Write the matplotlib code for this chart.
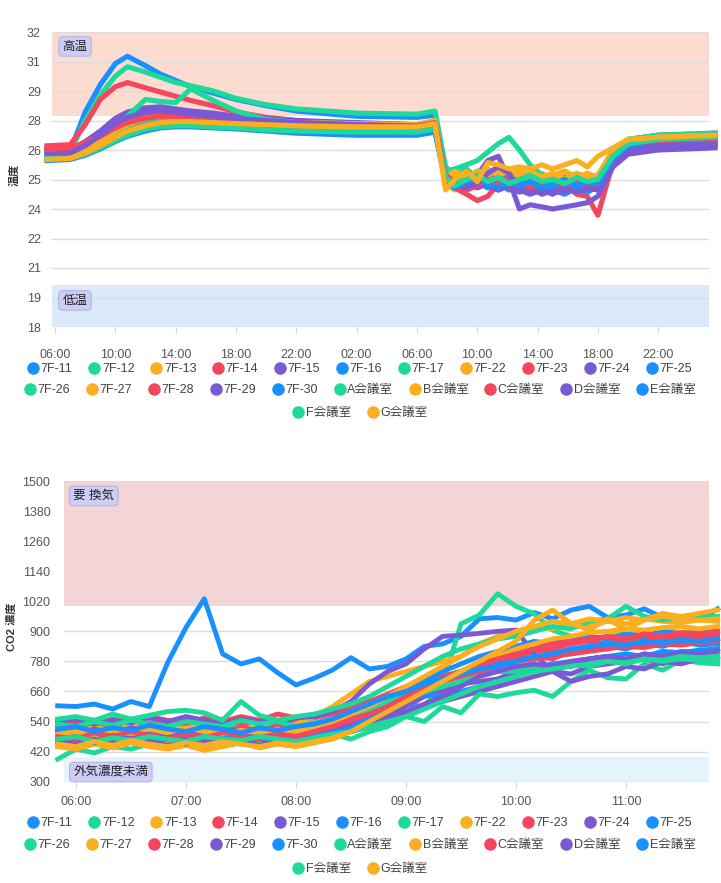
import matplotlib
matplotlib.use('Agg')
import matplotlib.pyplot as plt
from matplotlib.lines import Line2D
from matplotlib import font_manager

names_installed = {f.name for f in font_manager.fontManager.ttflist}
base_font = 'Liberation Sans Narrow' if 'Liberation Sans Narrow' in names_installed else 'Liberation Sans'
plt.rcParams['font.family'] = [base_font, 'Noto Sans CJK JP', 'DejaVu Sans']

# series names and colours
names = ['7F-11', '7F-12', '7F-13', '7F-14', '7F-15', '7F-16', '7F-17', '7F-22',
         '7F-23', '7F-24', '7F-25', '7F-26', '7F-27', '7F-28', '7F-29', '7F-30',
         'A会議室', 'B会議室', 'C会議室', 'D会議室', 'E会議室', 'F会議室', 'G会議室']
palette = ['#1890ff', '#1ed99a', '#fbae1f', '#f5465f', '#7a5ad4']

# ---- temperature (hours since day 1 00:00) ----
t_hours = [5.47, 7, 8, 9, 10, 10.8, 12, 13, 14, 15, 16.5, 18, 20, 22, 26, 30,
           31.2, 31.9, 32.5, 33.3, 34, 34.7, 35.4, 36.1, 36.8, 37.5, 38.3, 39, 39.8,
           40.6, 41.3, 42, 43, 44, 46, 49.77]
t_7f11 = [26.3, 26.35, 28.2, 29.5, 30.5, 30.85, 30.4, 30.0, 29.7, 29.4, 29.1, 28.8, 28.5, 28.25, 28.0, 27.95,
          28.05, 25.3, 25.1, 24.9, 25.2, 24.8, 24.9, 24.6, 24.8, 24.5, 24.7, 24.5, 24.8, 24.6, 24.9, 25.0, 26.3, 26.9, 27.1, 27.2]
t_7f12 = [26.25, 26.3, 27.8, 29.0, 29.9, 30.35, 30.1, 29.85, 29.6, 29.45, 29.2, 28.85, 28.55, 28.35, 28.15, 28.1,
          28.25, 25.6, 25.2, 25.5, 25.0, 25.3, 24.9, 25.1, 24.7, 24.9, 25.1, 24.8, 25.0, 24.7, 24.9, 25.1, 26.4, 26.9, 27.1, 27.15]
t_7f13 = [26.1, 26.15, 26.4, 26.8, 27.2, 27.45, 27.6, 27.7, 27.75, 27.75, 27.7, 27.65, 27.6, 27.55, 27.5, 27.5,
          27.65, 25.0, 24.6, 25.3, 25.1, 25.4, 25.2, 25.0, 25.3, 25.1, 24.9, 25.2, 25.0, 25.3, 25.1, 25.0, 26.1, 26.6, 26.9, 27.0]
t_7f14 = [26.6, 26.65, 27.6, 28.8, 29.4, 29.6, 29.35, 29.15, 28.95, 28.75, 28.5, 28.2, 27.95, 27.8, 27.6, 27.55,
          27.7, 25.3, 24.9, 25.2, 24.7, 24.9, 25.1, 24.6, 24.8, 24.5, 24.7, 24.4, 24.6, 24.5, 24.7, 24.9, 26.2, 26.7, 26.9, 27.0]
t_7f15 = [26.35, 26.4, 26.8, 27.3, 27.9, 28.2, 28.4, 28.45, 28.35, 28.25, 28.15, 28.0, 27.9, 27.8, 27.7, 27.6,
          27.75, 25.1, 24.8, 24.6, 24.9, 24.7, 24.5, 24.8, 24.6, 24.4, 24.7, 24.5, 24.6, 24.4, 24.6, 24.8, 25.9, 26.4, 26.6, 26.7]
t_7f16 = [26.1, 26.1, 26.3, 26.6, 26.95, 27.2, 27.45, 27.6, 27.7, 27.7, 27.65, 27.6, 27.45, 27.35, 27.3, 27.3,
          27.45, 25.2, 24.9, 24.7, 24.9, 24.6, 24.8, 24.5, 24.7, 24.4, 24.6, 24.5, 24.3, 24.6, 24.4, 24.7, 26.0, 26.5, 26.7, 26.8]
t_7f17 = [26.2, 26.25, 26.5, 27.0, 27.5, 28.0, 28.8, 28.7, 28.65, 29.3, 28.75, 28.25, 27.85, 27.7, 27.6, 27.55,
          27.7, 25.5, 25.2, 25.0, 25.4, 25.1, 24.9, 25.2, 24.8, 25.0, 24.7, 24.9, 25.1, 24.8, 24.9, 25.0, 26.3, 26.8, 27.0, 27.1]
t_7f22 = [26.0, 26.05, 26.3, 26.7, 27.1, 27.4, 27.7, 27.85, 27.9, 27.9, 27.85, 27.8, 27.7, 27.65, 27.6, 27.6,
          27.75, 24.8, 24.5, 25.0, 25.3, 25.0, 25.5, 25.2, 25.4, 25.1, 25.3, 25.0, 25.2, 24.9, 25.1, 25.2, 26.2, 26.7, 26.9, 27.0]
t_7f23 = [26.5, 26.5, 26.75, 27.1, 27.5, 27.8, 28.0, 28.05, 28.0, 27.95, 27.9, 27.8, 27.7, 27.65, 27.6, 27.55,
          27.7, 25.0, 24.6, 24.3, 24.0, 24.2, 24.8, 24.6, 24.5, 24.7, 24.9, 24.6, 24.8, 24.3, 24.2, 23.3, 25.8, 26.5, 26.8, 26.9]
t_7f24 = [26.05, 26.1, 26.3, 26.65, 27.0, 27.25, 27.5, 27.6, 27.65, 27.65, 27.6, 27.5, 27.4, 27.3, 27.2, 27.2,
          27.35, 25.1, 24.9, 24.8, 25.2, 25.9, 26.1, 25.0, 23.6, 23.8, 23.7, 23.6, 23.7, 23.8, 23.9, 24.2, 25.6, 26.2, 26.4, 26.5]
t_7f25 = [26.1, 26.1, 26.35, 26.7, 27.05, 27.3, 27.55, 27.7, 27.75, 27.75, 27.7, 27.65, 27.6, 27.5, 27.45, 27.4,
          27.55, 24.9, 25.0, 25.4, 25.1, 24.9, 25.2, 24.8, 25.0, 24.7, 24.9, 25.1, 24.8, 24.6, 24.9, 24.6, 26.1, 26.6, 26.9, 27.0]
t_7f26 = [26.2, 26.2, 26.45, 26.85, 27.25, 27.55, 27.8, 27.95, 27.95, 27.9, 27.85, 27.8, 27.75, 27.7, 27.65, 27.6,
          27.8, 25.4, 25.5, 25.7, 25.9, 26.3, 26.7, 27.0, 26.4, 25.7, 25.2, 24.9, 25.1, 24.8, 25.0, 24.9, 26.4, 26.9, 27.1, 27.2]
t_7f27 = [25.95, 26.0, 26.2, 26.5, 26.85, 27.1, 27.35, 27.5, 27.6, 27.65, 27.65, 27.6, 27.55, 27.5, 27.45, 27.45,
          27.6, 25.1, 25.4, 25.0, 25.3, 25.5, 25.2, 25.4, 25.1, 25.3, 25.0, 25.2, 25.4, 25.1, 25.3, 25.1, 26.3, 26.8, 27.0, 27.1]
t_7f28 = [26.4, 26.4, 26.6, 26.95, 27.35, 27.6, 27.85, 27.95, 27.95, 27.9, 27.85, 27.8, 27.7, 27.65, 27.55, 27.5,
          27.65, 25.2, 24.8, 25.1, 24.9, 25.2, 24.9, 24.7, 25.0, 24.8, 25.1, 24.8, 24.6, 24.9, 24.7, 24.8, 26.0, 26.6, 26.8, 26.9]
t_7f29 = [26.0, 26.05, 26.25, 26.55, 26.9, 27.15, 27.4, 27.5, 27.55, 27.55, 27.5, 27.45, 27.35, 27.25, 27.15, 27.15,
          27.3, 24.9, 24.7, 24.9, 24.6, 24.8, 24.5, 24.7, 24.4, 24.6, 24.3, 24.5, 24.4, 24.6, 24.5, 24.6, 25.7, 26.3, 26.5, 26.6]
t_7f30 = [26.05, 26.05, 26.25, 26.55, 26.9, 27.2, 27.45, 27.55, 27.6, 27.6, 27.55, 27.5, 27.4, 27.3, 27.2, 27.2,
          27.35, 25.0, 24.8, 25.2, 25.0, 24.7, 24.9, 25.1, 24.6, 24.8, 24.5, 24.7, 24.9, 24.6, 24.4, 24.7, 25.9, 26.5, 26.8, 26.9]
t_mr_a = [26.3, 26.3, 26.55, 26.95, 27.35, 27.65, 27.85, 27.95, 27.95, 27.9, 27.85, 27.75, 27.7, 27.65, 27.6, 27.55,
          27.75, 25.3, 25.0, 25.2, 24.9, 25.1, 24.8, 25.0, 25.2, 24.9, 25.1, 24.8, 25.0, 25.2, 24.9, 25.1, 26.2, 26.7, 26.9, 27.0]
t_mr_b = [26.15, 26.2, 26.45, 26.85, 27.3, 27.6, 27.9, 28.0, 28.0, 27.95, 27.9, 27.85, 27.75, 27.7, 27.65, 27.6,
          27.8, 25.1, 25.3, 25.1, 25.4, 25.2, 25.5, 25.3, 25.2, 25.4, 25.1, 25.3, 25.0, 25.2, 25.0, 25.2, 26.4, 26.9, 27.0, 27.1]
t_mr_c = [26.45, 26.45, 26.7, 27.05, 27.45, 27.7, 27.9, 28.0, 28.0, 27.95, 27.9, 27.85, 27.75, 27.7, 27.6, 27.55,
          27.7, 25.2, 24.9, 24.5, 24.7, 25.0, 24.8, 25.1, 24.9, 24.6, 24.8, 25.0, 24.7, 24.9, 24.7, 24.8, 26.1, 26.6, 26.8, 26.9]
t_mr_d = [26.2, 26.25, 26.6, 27.1, 27.65, 27.95, 28.2, 28.25, 28.2, 28.1, 28.0, 27.9, 27.8, 27.7, 27.6, 27.5,
          27.6, 25.0, 24.8, 24.6, 24.8, 25.3, 25.6, 25.3, 24.5, 24.3, 24.5, 24.3, 24.6, 24.4, 24.6, 24.5, 25.8, 26.4, 26.6, 26.7]
t_mr_e = [25.9, 25.95, 26.15, 26.45, 26.8, 27.05, 27.3, 27.45, 27.5, 27.5, 27.45, 27.4, 27.3, 27.2, 27.1, 27.1,
          27.25, 24.9, 24.6, 24.9, 25.1, 24.8, 24.6, 24.9, 24.7, 24.9, 24.6, 24.8, 25.0, 24.7, 24.9, 24.8, 26.0, 26.6, 26.9, 27.1]
t_mr_f = [26.0, 26.0, 26.2, 26.5, 26.85, 27.1, 27.4, 27.5, 27.55, 27.55, 27.5, 27.45, 27.35, 27.3, 27.25, 27.25,
          27.4, 25.1, 24.7, 25.0, 25.2, 24.9, 25.1, 24.8, 25.0, 25.2, 24.9, 25.0, 24.8, 25.1, 24.9, 25.0, 26.1, 26.7, 26.9, 27.0]
t_mr_g = [25.95, 26.0, 26.25, 26.6, 27.0, 27.3, 27.55, 27.7, 27.75, 27.75, 27.7, 27.65, 27.6, 27.55, 27.5, 27.5,
          27.65, 24.5, 25.0, 25.4, 24.9, 25.8, 25.7, 25.5, 25.6, 25.5, 25.7, 25.5, 25.7, 25.9, 25.6, 26.1, 26.5, 26.9, 27.0, 27.1]

# ---- CO2, one value every 10 minutes from 05:50 to 11:50 ----
co2_hours = [5 + 50 / 60 + i / 6 for i in range(37)]
c_7f11 = [603, 600, 610, 590, 620, 600, 775, 915, 1030, 810, 770, 790, 735, 686, 713, 746, 795, 750, 760, 790,
          840, 850, 880, 950, 955, 945, 975, 950, 985, 1000, 955, 965, 990, 955, 950, 945, 990]
c_7f12 = [480, 470, 495, 475, 505, 485, 510, 495, 515, 500, 525, 505, 520, 500, 510, 530, 545, 560, 590, 610,
          600, 690, 930, 965, 1050, 1000, 970, 905, 880, 860, 850, 870, 860, 880, 875, 885, 880]
c_7f13 = [470, 455, 480, 465, 490, 470, 460, 485, 470, 455, 480, 470, 490, 475, 500, 520, 545, 560, 600, 630,
          650, 680, 700, 720, 760, 800, 830, 850, 870, 860, 880, 900, 890, 910, 895, 905, 900]
c_7f14 = [520, 540, 515, 530, 510, 535, 520, 545, 525, 550, 530, 545, 520, 540, 555, 570, 590, 610, 640, 670,
          690, 710, 720, 740, 760, 780, 800, 790, 820, 840, 830, 850, 860, 845, 870, 860, 870]
c_7f15 = [480, 470, 490, 475, 460, 485, 470, 490, 475, 495, 480, 470, 490, 480, 470, 490, 500, 520, 540, 570,
          600, 620, 640, 660, 680, 700, 720, 740, 730, 760, 770, 780, 790, 770, 800, 790, 800]
c_7f16 = [470, 480, 460, 475, 490, 465, 480, 470, 455, 480, 470, 490, 475, 485, 500, 510, 530, 560, 600, 650,
          700, 720, 740, 760, 780, 800, 790, 820, 810, 830, 840, 830, 850, 840, 860, 845, 850]
c_7f17 = [390, 430, 415, 440, 430, 450, 440, 455, 445, 460, 450, 465, 455, 470, 480, 490, 470, 500, 520, 560,
          540, 600, 575, 650, 640, 655, 665, 640, 700, 745, 715, 710, 770, 745, 785, 775, 770]
c_7f22 = [510, 490, 520, 500, 525, 505, 530, 510, 535, 515, 500, 525, 510, 530, 560, 600, 650, 700, 720, 740,
          760, 780, 800, 850, 880, 900, 920, 910, 930, 920, 940, 930, 950, 940, 935, 945, 940]
c_7f23 = [540, 555, 530, 550, 535, 560, 545, 530, 555, 540, 560, 545, 570, 555, 565, 580, 600, 620, 650, 680,
          700, 720, 740, 760, 790, 800, 820, 830, 850, 860, 850, 870, 880, 860, 880, 875, 880]
c_7f24 = [540, 550, 530, 545, 535, 555, 540, 560, 545, 530, 550, 540, 535, 555, 560, 580, 620, 690, 740, 770,
          830, 880, 885, 892, 900, 905, 810, 740, 700, 720, 730, 760, 750, 780, 770, 790, 790]
c_7f25 = [490, 505, 485, 500, 480, 495, 510, 490, 505, 485, 500, 490, 510, 495, 505, 520, 540, 570, 620, 660,
          700, 740, 770, 800, 820, 840, 860, 850, 870, 880, 870, 890, 880, 900, 890, 895, 900]
c_7f26 = [550, 560, 545, 570, 550, 565, 580, 585, 575, 545, 620, 565, 545, 560, 570, 590, 610, 640, 680, 720,
          760, 800, 830, 850, 870, 880, 900, 920, 910, 940, 950, 1000, 960, 945, 960, 955, 960]
c_7f27 = [440, 430, 450, 435, 455, 440, 430, 445, 425, 440, 455, 435, 450, 440, 455, 470, 500, 530, 580, 620,
          660, 700, 740, 770, 800, 830, 850, 870, 880, 895, 900, 910, 905, 915, 920, 910, 920]
c_7f28 = [500, 515, 495, 510, 500, 520, 505, 490, 510, 500, 515, 505, 520, 510, 525, 540, 560, 580, 610, 640,
          670, 700, 720, 740, 760, 780, 790, 800, 810, 820, 830, 840, 835, 850, 845, 855, 860]
c_7f29 = [500, 490, 510, 495, 515, 500, 490, 505, 495, 510, 500, 490, 505, 495, 500, 510, 525, 540, 560, 600,
          640, 660, 690, 700, 710, 740, 750, 770, 760, 790, 800, 780, 810, 800, 820, 815, 830]
c_7f30 = [460, 470, 455, 465, 480, 460, 470, 450, 465, 480, 460, 470, 455, 470, 480, 495, 515, 550, 590, 630,
          650, 640, 660, 680, 700, 720, 750, 770, 780, 790, 800, 810, 800, 820, 815, 825, 830]
c_mr_a = [530, 520, 540, 525, 545, 530, 520, 540, 530, 520, 545, 530, 540, 520, 535, 550, 570, 590, 620, 640,
          660, 680, 700, 720, 740, 740, 760, 750, 770, 760, 780, 770, 790, 780, 790, 785, 790]
c_mr_b = [490, 500, 485, 505, 490, 510, 495, 515, 500, 490, 505, 495, 510, 500, 520, 540, 570, 600, 640, 680,
          720, 760, 800, 840, 870, 900, 920, 940, 930, 950, 940, 955, 945, 960, 950, 945, 950]
c_mr_c = [480, 470, 495, 480, 500, 485, 470, 490, 475, 495, 485, 470, 490, 480, 500, 520, 545, 570, 600, 640,
          680, 710, 740, 770, 790, 810, 830, 850, 860, 870, 880, 870, 890, 880, 895, 890, 900]
c_mr_d = [460, 450, 470, 455, 475, 460, 445, 465, 455, 470, 460, 445, 465, 455, 470, 480, 500, 520, 550, 580,
          610, 640, 680, 720, 740, 760, 770, 760, 780, 790, 800, 790, 810, 800, 815, 810, 820]
c_mr_e = [510, 520, 500, 515, 505, 525, 510, 500, 520, 510, 495, 515, 505, 520, 530, 550, 580, 610, 640, 660,
          690, 710, 730, 750, 760, 780, 800, 810, 830, 840, 850, 845, 860, 855, 865, 860, 870]
c_mr_f = [470, 480, 460, 475, 465, 480, 470, 460, 480, 470, 465, 480, 470, 460, 475, 490, 500, 520, 540, 560,
          590, 620, 650, 680, 700, 720, 740, 750, 760, 770, 780, 775, 790, 785, 800, 795, 800]
c_mr_g = [450, 440, 460, 445, 465, 450, 440, 455, 445, 460, 450, 440, 455, 445, 460, 475, 500, 540, 580, 620,
          660, 700, 740, 780, 820, 860, 945, 985, 932, 905, 950, 905, 945, 972, 959, 972, 985]

temp_series = [t_7f11, t_7f12, t_7f13, t_7f14, t_7f15, t_7f16, t_7f17, t_7f22, t_7f23, t_7f24, t_7f25, t_7f26,
               t_7f27, t_7f28, t_7f29, t_7f30, t_mr_a, t_mr_b, t_mr_c, t_mr_d, t_mr_e, t_mr_f, t_mr_g]
co2_series = [c_7f11, c_7f12, c_7f13, c_7f14, c_7f15, c_7f16, c_7f17, c_7f22, c_7f23, c_7f24, c_7f25, c_7f26,
              c_7f27, c_7f28, c_7f29, c_7f30, c_mr_a, c_mr_b, c_mr_c, c_mr_d, c_mr_e, c_mr_f, c_mr_g]

temp_ticks = [18 + 1.4 * k for k in range(11)]
temp_xticks = [6, 10, 14, 18, 22, 26, 30, 34, 38, 42, 46]
co2_ticks = list(range(300, 1501, 120))
co2_xticks = [6, 7, 8, 9, 10, 11]

W, H = 721, 883
fig = plt.figure(figsize=(W / 100, H / 100), dpi=100)


def style_axes(ax, ylabel_pad):
    for s in ax.spines.values():
        s.set_visible(False)
    ax.grid(axis='y', color='#dcdcdc', lw=1)
    ax.set_axisbelow(True)
    ax.tick_params(axis='y', length=0, labelsize=9, labelcolor='#555555', pad=ylabel_pad)
    ax.tick_params(axis='x', length=4, color='#d6d6d6', labelsize=9, labelcolor='#555555')


def band_label(ax, x, y, text):
    ax.text(x, y, text, transform=ax.transAxes, ha='left', va='center', fontsize=9, color='#222222',
            bbox=dict(boxstyle='round,pad=0.3', fc='#cdcdf6', ec='#b4b4e4', lw=0.8), zorder=5)


def add_legend(row_ys):
    rows = [range(0, 11), range(11, 21), range(21, 23)]
    for row, y in zip(rows, row_ys):
        handles = [Line2D([], [], ls='', marker='o', ms=8, color=palette[i % 5]) for i in row]
        fig.legend(handles, [names[i] for i in row], loc='center', bbox_to_anchor=(0.5, y),
                   ncol=len(handles), frameon=False, fontsize=9, handlelength=0.7, handletextpad=0.25,
                   columnspacing=1.4, borderpad=0, borderaxespad=0, labelcolor='#444444')


# ---- temperature chart ----
ax1 = fig.add_axes([52 / W, 1 - 327 / H, 657 / W, 295 / H])
style_axes(ax1, 8)
ax1.axhspan(28, 32, color='#fcdcd0', zorder=0.2, lw=0)
ax1.axhspan(18, 20, color='#dbeafa', zorder=0.2, lw=0)
for i, vals in enumerate(temp_series):
    ax1.plot(t_hours, vals, color=palette[i % 5], lw=3.7, solid_joinstyle='round', clip_on=False, zorder=2)
ax1.set_xlim(5.8, 49.37)
ax1.set_ylim(18, 32)
ax1.set_yticks(temp_ticks)
ax1.set_yticklabels([f'{v:.0f}' for v in temp_ticks])
ax1.set_xticks(temp_xticks)
ax1.set_xticklabels([f'{h % 24:02d}:00' for h in temp_xticks])
ax1.tick_params(axis='x', pad=12)
band_label(ax1, 0.016, 0.951, '高温')
band_label(ax1, 0.016, 0.090, '低温')
fig.text(14 / W, 1 - 175 / H, '温度', rotation=90, ha='center', va='center', fontsize=8,
         fontweight='bold', color='#333333')
add_legend([1 - 369 / H, 1 - 390 / H, 1 - 413 / H])

# ---- CO2 chart ----
ax2 = fig.add_axes([64.3 / W, 1 - 781.7 / H, 644.7 / W, 300.7 / H])
style_axes(ax2, 10)
ax2.axhspan(1000, 1500, color='#f4d4d4', zorder=0.2, lw=0)
ax2.axhspan(300, 400, color='#e5f3fc', zorder=0.2, lw=0)
for i, vals in enumerate(co2_series):
    ax2.plot(co2_hours, vals, color=palette[i % 5], lw=3.5, solid_joinstyle='round', clip_on=False, zorder=2)
ax2.set_xlim(5.894, 11.755)
ax2.set_ylim(300, 1500)
ax2.set_yticks(co2_ticks)
ax2.set_xticks(co2_xticks)
ax2.set_xticklabels([f'{h:02d}:00' for h in co2_xticks])
ax2.tick_params(axis='x', pad=6)
band_label(ax2, 0.014, 0.950, '要 換気')
band_label(ax2, 0.014, 0.032, '外気濃度未満')
fig.text(12 / W, 1 - 627 / H, 'CO2 濃度', rotation=90, ha='center', va='center', fontsize=8,
         fontweight='bold', color='#333333')
add_legend([1 - 823 / H, 1 - 845 / H, 1 - 869 / H])

fig.savefig('out.png', dpi=100)
